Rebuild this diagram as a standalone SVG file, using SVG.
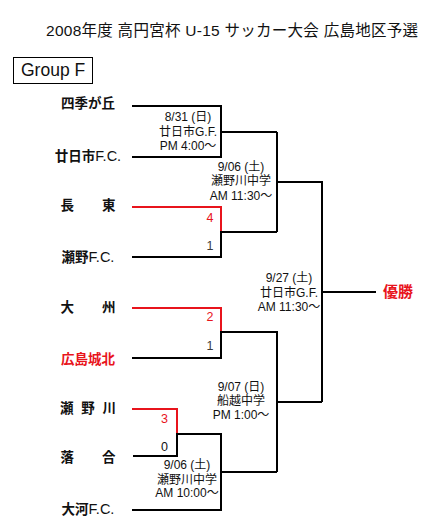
<svg xmlns="http://www.w3.org/2000/svg" width="432" height="521" viewBox="0 0 432 521">
<style>
text{font-family:"Liberation Sans","Noto Sans CJK JP",sans-serif;fill:#111}
.title{font-size:15.5px}
.grp{font-size:17.5px}
.team{font-size:13.5px;font-weight:bold;text-anchor:middle}
.lat{font-weight:normal;font-size:14.5px}
.lbl{font-size:12px;text-anchor:middle}
.sc{font-size:12.5px;text-anchor:middle}
.red{fill:#e8141c}
.gray{fill:#3a3a3a}
.ln{fill:none;stroke:#000;stroke-width:2}
.rl{fill:none;stroke:#e8141c;stroke-width:2}
</style>
<rect width="432" height="521" fill="#fff"/>
<g id="title"><text class="title" x="46" y="35.5" textLength="372" lengthAdjust="spacing">2008年度 高円宮杯 U-15 サッカー大会 広島地区予選</text></g>
<g id="group-f">
<rect x="13.5" y="57.5" width="79" height="26" fill="none" stroke="#000" stroke-width="1"/>
<text class="grp" x="21" y="76">Group F</text>
</g>
<g id="connectors">
<path class="ln" d="M132 106H221V157H132"/>
<path class="ln" d="M221 132H277"/>
<path class="rl" d="M132 207H221V232"/>
<path class="ln" d="M132 257H221V232H277"/>
<path class="ln" d="M277 132V232"/>
<path class="ln" d="M277 182H322V402"/>
<path class="ln" d="M322 292H376"/>
<path class="rl" d="M132 308H221V332"/>
<path class="ln" d="M132 358H221V332H277V472"/>
<path class="ln" d="M277 402H322"/>
<path class="rl" d="M132 409H177V433"/>
<path class="ln" d="M133 456H177V434H221V510H132"/>
<path class="ln" d="M221 472H277"/>
</g>
<g id="team-shikigaoka"><text class="team" x="88" y="108">四季が丘</text></g>
<g id="team-hatsukaichi"><text class="team" x="88" y="161">廿日市<tspan class="lat">F.C.</tspan></text></g>
<g id="team-choto"><text class="team" x="88" y="210" textLength="55" lengthAdjust="spacing">長　　東</text></g>
<g id="team-seno-fc"><text class="team" x="88" y="262">瀬野<tspan class="lat">F.C.</tspan></text></g>
<g id="team-oozu"><text class="team" x="88" y="312" textLength="55" lengthAdjust="spacing">大　　州</text></g>
<g id="team-hiroshima-johoku"><text class="team red" x="88" y="364">広島城北</text></g>
<g id="team-senogawa"><text class="team" x="88" y="413" textLength="56" lengthAdjust="spacing">瀬 野 川</text></g>
<g id="team-ochiai"><text class="team" x="88" y="462" textLength="55" lengthAdjust="spacing">落　　合</text></g>
<g id="team-okou-fc"><text class="team" x="88" y="514">大河<tspan class="lat">F.C.</tspan></text></g>
<g id="winner"><text x="383" y="297" style="font-size:15px;font-weight:bold" class="red">優勝</text></g>
<g id="match-1">
<text class="lbl" x="188" y="121">8/31 (日)</text>
<text class="lbl" x="188" y="135.5">廿日市G.F.</text>
<text class="lbl" x="188" y="150">PM 4:00〜</text>
</g>
<g id="match-2">
<text class="lbl" x="241" y="170.5">9/06 (土)</text>
<text class="lbl" x="241" y="185">瀬野川中学</text>
<text class="lbl" x="241" y="199.5">AM 11:30〜</text>
</g>
<g id="match-final">
<text class="lbl" x="289" y="282">9/27 (土)</text>
<text class="lbl" x="289" y="296.5">廿日市G.F.</text>
<text class="lbl" x="289" y="311">AM 11:30〜</text>
</g>
<g id="match-4">
<text class="lbl" x="241" y="391">9/07 (日)</text>
<text class="lbl" x="241" y="405">船越中学</text>
<text class="lbl" x="241" y="419">PM 1:00〜</text>
</g>
<g id="match-3">
<text class="lbl" x="187" y="469">9/06 (土)</text>
<text class="lbl" x="187" y="483.5">瀬野川中学</text>
<text class="lbl" x="187" y="497">AM 10:00〜</text>
</g>
<g id="scores">
<text class="sc red" x="210" y="222">4</text>
<text class="sc gray" x="210" y="250">1</text>
<text class="sc red" x="210" y="321">2</text>
<text class="sc gray" x="210" y="350">1</text>
<text class="sc red" x="164.5" y="423">3</text>
<text class="sc" x="164.5" y="451">0</text>
</g>
</svg>
